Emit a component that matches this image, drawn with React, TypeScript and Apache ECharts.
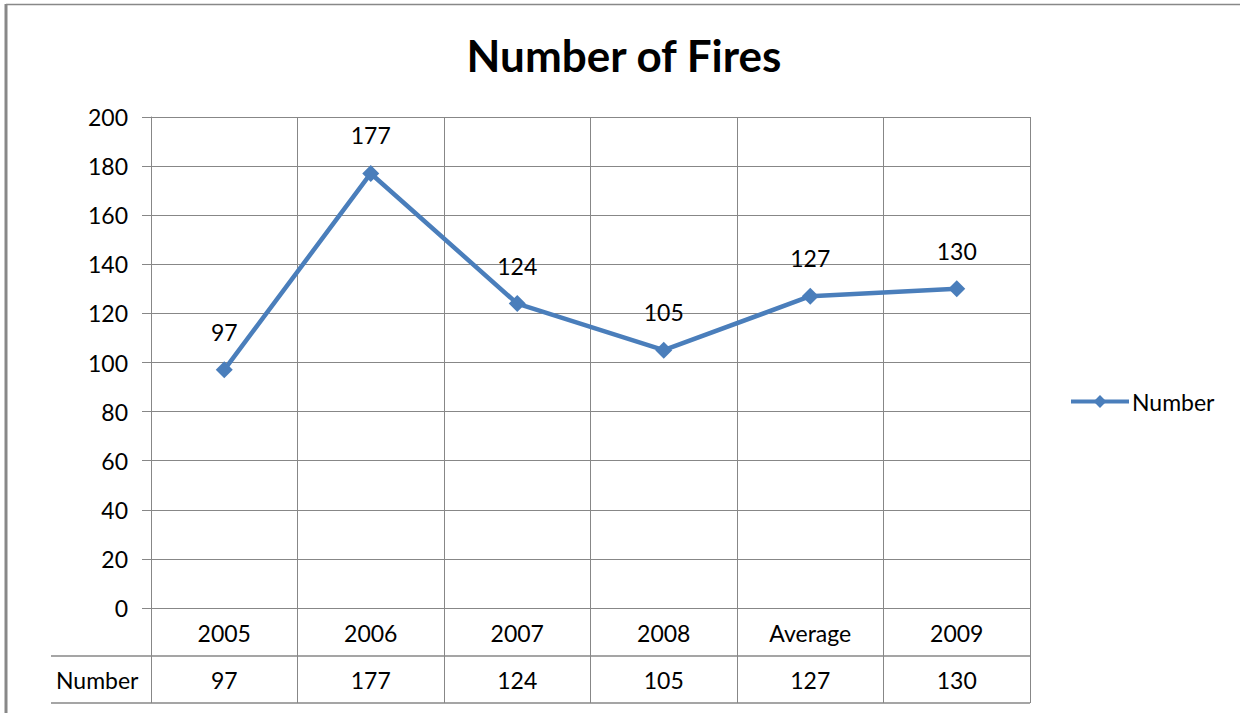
import React, { useEffect, useRef } from "react";
import * as echarts from "echarts";

const categories = ["2005", "2006", "2007", "2008", "Average", "2009"];
const numbers = [97, 177, 124, 105, 127, 130];
const seriesName = "Number";
const chartTitle = "Number of Fires";

const FONT = 'Lato, "Open Sans", sans-serif';
const GRID = "#878787";
const BLUE = "#4a7ebb";

export default function App() {
  const ref = useRef<HTMLDivElement>(null);
  useEffect(() => {
    document.body.style.margin = "0";
    const chart = echarts.init(ref.current!, null, { renderer: "svg" });
    chart.setOption({
      animation: false,
      backgroundColor: "#fff",
      textStyle: { fontFamily: FONT },
      title: {
        text: chartTitle,
        left: 619,
        top: 28,
        textAlign: "center",
        textStyle: { fontFamily: FONT, fontSize: 44, fontWeight: "bold", color: "#000" },
      },
      legend: {
        data: [seriesName],
        left: 1064,
        top: 385,
        itemWidth: 58,
        itemHeight: 16,
        itemGap: 4,
        lineStyle: { width: 4 },
        textStyle: { fontFamily: FONT, fontSize: 23, color: "#000", padding: [0, 0, 0, -2] },
      },
      grid: { left: 151, right: 210, top: 117, bottom: 105, containLabel: false },
      xAxis: [
        {
          type: "category",
          data: categories,
          boundaryGap: true,
          axisLine: { show: true, lineStyle: { color: GRID, width: 1 } },
          axisTick: { show: true, length: 95, lineStyle: { color: GRID } },
          axisLabel: { fontFamily: FONT, fontSize: 23, color: "#000", margin: 13 },
          splitLine: { show: true, lineStyle: { color: GRID, width: 1 } },
        },
        {
          type: "category",
          data: categories,
          position: "bottom",
          offset: 47,
          axisLine: { show: false },
          axisTick: { show: false },
          axisLabel: {
            fontFamily: FONT,
            fontSize: 23,
            color: "#000",
            margin: 13,
            formatter: (_v: string, i: number) => String(numbers[i]),
          },
          splitLine: { show: false },
        },
      ],
      yAxis: {
        type: "value",
        min: 0,
        max: 200,
        interval: 20,
        axisLine: { show: true, lineStyle: { color: GRID } },
        axisTick: { show: true, length: 9, lineStyle: { color: GRID } },
        axisLabel: { fontFamily: FONT, fontSize: 23, color: "#000", margin: 23 },
        splitLine: { show: true, lineStyle: { color: GRID } },
      },
      series: [
        {
          name: seriesName,
          type: "line",
          data: numbers,
          symbol: "diamond",
          symbolSize: 17,
          lineStyle: { color: BLUE, width: 4.5 },
          itemStyle: { color: BLUE },
          label: {
            show: true,
            position: "top",
            distance: 18,
            fontFamily: FONT,
            fontSize: 23,
            color: "#000",
          },
        },
      ],
      graphic: [
        { type: "line", shape: { x1: 6, y1: 4, x2: 6, y2: 713 }, style: { stroke: "#888", lineWidth: 3 } },
        { type: "line", shape: { x1: 6, y1: 4.5, x2: 1240, y2: 4.5 }, style: { stroke: "#888", lineWidth: 1.5 } },
        { type: "line", shape: { x1: 51, y1: 656, x2: 1030, y2: 656 }, style: { stroke: GRID, lineWidth: 1.5 } },
        { type: "line", shape: { x1: 51, y1: 703, x2: 1030, y2: 703 }, style: { stroke: GRID, lineWidth: 1.5 } },
        {
          type: "text",
          left: 56,
          top: 668,
          style: { text: seriesName, fontFamily: FONT, fontSize: 23, fill: "#000" },
        },
      ],
    });
    return () => chart.dispose();
  }, []);
  return <div ref={ref} style={{ width: 1240, height: 713 }} />;
}
